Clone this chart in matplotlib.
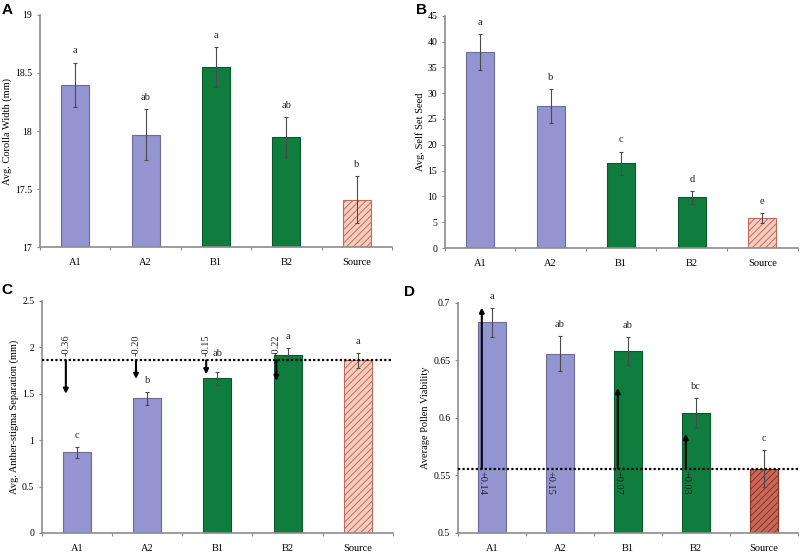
import matplotlib
matplotlib.use("Agg")
import matplotlib.pyplot as plt
from matplotlib.ticker import FormatStrFormatter, FixedLocator

plt.rcParams['font.family'] = ['Liberation Serif', 'DejaVu Serif']
plt.rcParams['hatch.linewidth'] = 0.7

groups = ['A1', 'A2', 'B1', 'B2', 'Source']

# panel A - corolla width
corolla = [18.40, 17.97, 18.55, 17.95, 17.41]
corolla_err = [0.19, 0.22, 0.17, 0.17, 0.20]
corolla_sig = ['a', 'ab', 'a', 'ab', 'b']

# panel B - self set seed
seed = [38.0, 27.5, 16.4, 9.8, 5.8]
seed_err = [3.5, 3.3, 2.3, 1.3, 1.0]
seed_sig = ['a', 'b', 'c', 'd', 'e']

# panel C - anther-stigma separation
sep = [0.87, 1.45, 1.67, 1.92, 1.86]
sep_err = [0.06, 0.07, 0.07, 0.07, 0.08]
sep_sig = ['c', 'b', 'ab', 'a', 'a']
sep_change = [-0.36, -0.20, -0.15, -0.22]
sep_change_txt = ['-0.36', '-0.20', '-0.15', '-0.22']

# panel D - pollen viability
pollen = [0.683, 0.656, 0.658, 0.604, 0.556]
pollen_err = [0.013, 0.015, 0.012, 0.013, 0.016]
pollen_sig = ['a', 'ab', 'ab', 'bc', 'c']
pollen_change = [0.14, 0.15, 0.07, 0.03]
pollen_change_txt = ['+0.14', '+0.15', '+0.07', '+0.03']

LAV = '#9494d0'
LAV_EDGE = '#6c6c9c'
GREEN = '#0f7d3e'
GREEN_EDGE = '#0b5a2c'


def draw_panel(ax, vals, errs, sig, ylim, yticks, ylabel, fmt, dark_source=False, sig_nudge=None):
    x = list(range(len(vals)))
    faces = [LAV, LAV, GREEN, GREEN]
    edges = [LAV_EDGE, LAV_EDGE, GREEN_EDGE, GREEN_EDGE]
    ax.bar(x[:4], vals[:4], width=0.4, color=faces, edgecolor=edges, linewidth=0.8, zorder=2)
    if dark_source:
        ax.bar(x[4], vals[4], width=0.4, color='#c9685a', edgecolor='#8a3325',
               hatch='/////', linewidth=0.8, zorder=2)
    else:
        ax.bar(x[4], vals[4], width=0.4, color='#f4cdbf', edgecolor='#c46a58',
               hatch='/////', linewidth=0.8, zorder=2)
    ax.errorbar(x, vals, yerr=errs, fmt='none', ecolor='#4a4a4a', elinewidth=0.8,
                capsize=1.5, capthick=0.8, zorder=3)
    rng = ylim[1] - ylim[0]
    for i, (v, e, s) in enumerate(zip(vals, errs, sig)):
        off = 0.05 * rng
        if sig_nudge and i in sig_nudge:
            off += sig_nudge[i]
        ax.text(i, v + e + off, s, ha='center', va='center', fontsize=7.5, color='#222222')

    ax.set_xlim(-0.5, len(vals) - 0.5)
    ax.set_ylim(*ylim)
    ax.set_yticks(yticks)
    ax.yaxis.set_major_formatter(FormatStrFormatter(fmt))
    ax.set_xticks(x)
    ax.set_xticklabels(groups)
    ax.xaxis.set_minor_locator(FixedLocator([i - 0.5 for i in range(len(vals) + 1)]))
    ax.tick_params(axis='x', which='major', length=0, pad=8, labelsize=7.5)
    ax.tick_params(axis='x', which='minor', length=2.5, width=0.8, color='#888888', direction='out')
    ax.tick_params(axis='y', length=2.5, width=0.8, color='#888888', pad=3, labelsize=7)
    ax.set_ylabel(ylabel, fontsize=7.5, labelpad=2)
    for side in ['top', 'right']:
        ax.spines[side].set_visible(False)
    for side in ['left', 'bottom']:
        ax.spines[side].set_color('#8c8c8c')
        ax.spines[side].set_linewidth(1.2)


fig = plt.figure(figsize=(8, 5.53), dpi=100)

axA = fig.add_axes([0.050, 0.553, 0.440, 0.420])
draw_panel(axA, corolla, corolla_err, corolla_sig, (17, 19), [17, 17.5, 18, 18.5, 19],
           'Avg. Corolla Width (mm)', '%g')

axB = fig.add_axes([0.556, 0.5515, 0.441, 0.420])
draw_panel(axB, seed, seed_err, seed_sig, (0, 45), list(range(0, 46, 5)),
           'Avg. Self Set Seed', '%g')

axC = fig.add_axes([0.0525, 0.0362, 0.4385, 0.4195])
draw_panel(axC, sep, sep_err, sep_sig, (0, 2.5), [0, 0.5, 1, 1.5, 2, 2.5],
           'Avg. Anther-stigma Separation (mm)', '%g', sig_nudge={2: 0.07})
base_c = sep[4]
axC.axhline(base_c, color='black', linestyle=(0, (1, 1)), linewidth=1.6, zorder=4)
for i, (d, t) in enumerate(zip(sep_change, sep_change_txt)):
    xa = i - 0.16
    axC.annotate('', xy=(xa, base_c + d), xytext=(xa, base_c),
                 arrowprops=dict(arrowstyle='-|>', color='black', lw=1.5,
                                 mutation_scale=7, shrinkA=0, shrinkB=0), zorder=5)
    axC.text(xa, base_c + 0.05, t, rotation=90, ha='center', va='bottom',
             fontsize=7.5, color='#222222')

axD = fig.add_axes([0.5725, 0.0362, 0.425, 0.416])
draw_panel(axD, pollen, pollen_err, pollen_sig, (0.5, 0.7), [0.5, 0.55, 0.6, 0.65, 0.7],
           'Average Pollen Viability', '%g', dark_source=True)
base_d = pollen[4]
axD.axhline(base_d, color='black', linestyle=(0, (1, 1)), linewidth=1.6, zorder=4)
for i, (d, t) in enumerate(zip(pollen_change, pollen_change_txt)):
    xa = i - 0.15
    axD.annotate('', xy=(xa, base_d + d), xytext=(xa, base_d),
                 arrowprops=dict(arrowstyle='-|>', color='black', lw=1.5,
                                 mutation_scale=7, shrinkA=0, shrinkB=0), zorder=5)
    axD.text(xa, base_d - 0.002, t, rotation=270, ha='center', va='top',
             fontsize=7.5, color='#222222')

# panel letters
for lx, ly, lab in [(0.002, 0.995, 'A'), (0.520, 0.995, 'B'), (0.002, 0.488, 'C'), (0.505, 0.485, 'D')]:
    fig.text(lx, ly, lab, fontsize=11, fontweight='bold', family='Liberation Sans',
             ha='left', va='top')

fig.savefig('out.png', dpi=100)
